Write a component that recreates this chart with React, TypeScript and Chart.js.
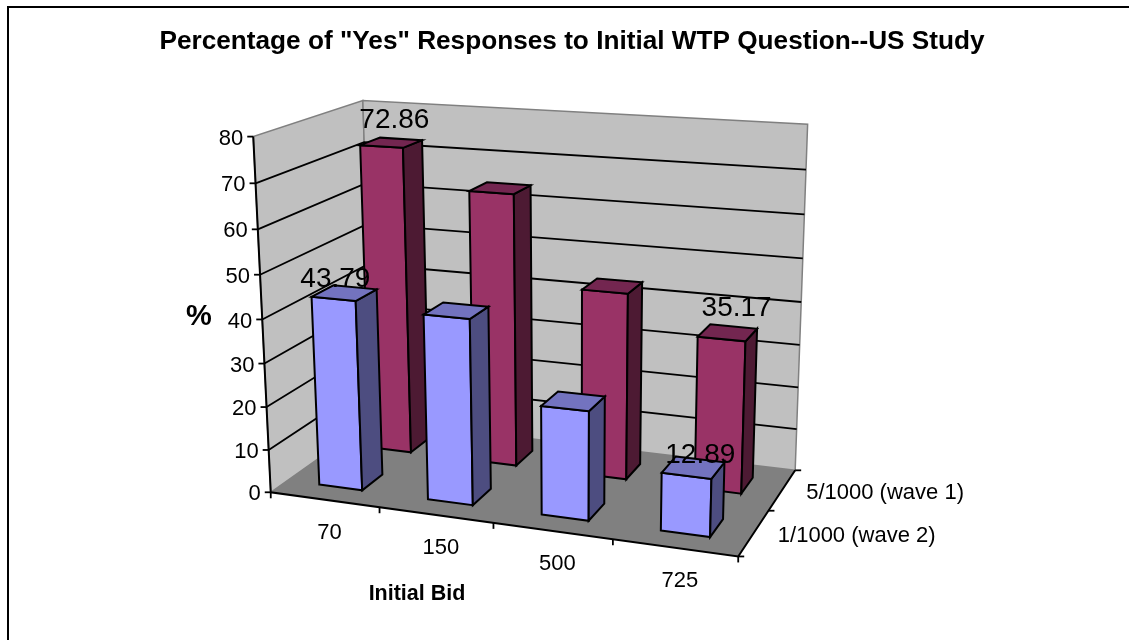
import React, { useEffect, useRef } from "react";
import { Chart, registerables } from "chart.js";

Chart.register(...registerables);

const title = 'Percentage of "Yes" Responses to Initial WTP Question--US Study';
const bids = ["70", "150", "500", "725"];
const seriesNames = ["1/1000 (wave 2)", "5/1000 (wave 1)"];
const wave2 = [43.79, 42.2, 24.6, 12.89];
const wave1 = [72.86, 64, 43.5, 35.17];
const yTicksMax = 80;
const yStep = 10;
const shownLabels = [
  { series: 0, index: 0, dx: -9, dy: -14 },
  { series: 1, index: 0, dx: 3, dy: -22 },
  { series: 1, index: 3, dx: 9, dy: -24 },
  { series: 0, index: 3, dx: 7, dy: -12 },
];

const FONT = '"Liberation Sans", Arial, sans-serif';
const BAR_PCT = 0.4;

// View of the 3D box: where its known corners land on the page (u: along bids, v: depth, w: height).
const anchors: number[][] = [
  [0, 0, 0, 270, 492.7],
  [1, 0, 0, 738, 556.7],
  [1, 1, 0, 795, 470],
  [0, 1, 0, 374, 420],
  [0, 0, 1, 254, 136.7],
  [0, 1, 1, 361.7, 100.7],
  [1, 1, 1, 808, 124.3],
  [0, 0, 0.5, 262.5, 318.7],
];

function solveView() {
  const rows: number[][] = [];
  const rhs: number[] = [];
  for (const [u, v, w, x, y] of anchors) {
    rows.push([u, v, w, 1, 0, 0, 0, 0, -x * u, -x * v, -x * w]);
    rhs.push(x);
    rows.push([0, 0, 0, 0, u, v, w, 1, -y * u, -y * v, -y * w]);
    rhs.push(y);
  }
  const n = 11;
  const m: number[][] = [];
  for (let i = 0; i < n; i++) {
    const r = new Array(n + 1).fill(0);
    for (let j = 0; j < n; j++) for (let k = 0; k < rows.length; k++) r[j] += rows[k][i] * rows[k][j];
    for (let k = 0; k < rows.length; k++) r[n] += rows[k][i] * rhs[k];
    m.push(r);
  }
  for (let i = 0; i < n; i++) {
    let p = i;
    for (let r = i + 1; r < n; r++) if (Math.abs(m[r][i]) > Math.abs(m[p][i])) p = r;
    [m[i], m[p]] = [m[p], m[i]];
    for (let r = 0; r < n; r++) {
      if (r === i) continue;
      const f = m[r][i] / m[i][i];
      for (let c = i; c <= n; c++) m[r][c] -= f * m[i][c];
    }
  }
  return m.map((r, i) => r[n] / r[i]);
}

const h = solveView();
function project(u: number, v: number, w: number): [number, number] {
  const d = h[8] * u + h[9] * v + h[10] * w + 1;
  return [
    (h[0] * u + h[1] * v + h[2] * w + h[3]) / d,
    (h[4] * u + h[5] * v + h[6] * w + h[7]) / d,
  ];
}

function poly(ctx: CanvasRenderingContext2D, pts: [number, number][], fill: string | null, stroke: string | null, lw = 2) {
  ctx.beginPath();
  pts.forEach((p, i) => (i ? ctx.lineTo(p[0], p[1]) : ctx.moveTo(p[0], p[1])));
  if (fill) {
    ctx.closePath();
    ctx.fillStyle = fill;
    ctx.fill();
  }
  if (stroke) {
    ctx.strokeStyle = stroke;
    ctx.lineWidth = lw;
    ctx.lineJoin = "miter";
    ctx.stroke();
  }
}

const faces = [
  { front: "#9999FF", side: "#4D4D80", top: "#7373BF" },
  { front: "#993366", side: "#4D1A33", top: "#732650" },
];

function barGeometry(chart: any, d: number, i: number) {
  const el = chart.getDatasetMeta(d).data[i];
  const a = chart.chartArea;
  const yScale = chart.scales.y;
  const uc = (el.x - a.left) / a.width;
  const uw = el.width / a.width;
  const w = (yScale.getPixelForValue(0) - el.y) / (yScale.getPixelForValue(0) - yScale.getPixelForValue(yTicksMax));
  const vc = (d + 0.5) / chart.data.datasets.length;
  const vw = BAR_PCT / chart.data.datasets.length;
  return { u0: uc - uw / 2, u1: uc + uw / 2, v0: vc - vw / 2, v1: vc + vw / 2, w };
}

const box3d = {
  id: "box3d",
  beforeDraw(chart: any) {
    const ctx = chart.ctx;
    ctx.save();
    ctx.fillStyle = "#FFFFFF";
    ctx.fillRect(0, 0, chart.width, chart.height);
    ctx.strokeStyle = "#000000";
    ctx.lineWidth = 2;
    ctx.beginPath();
    ctx.moveTo(8, chart.height);
    ctx.lineTo(8, 7);
    ctx.lineTo(chart.width, 7);
    ctx.stroke();
    ctx.restore();
  },
  beforeDatasetsDraw(chart: any) {
    const ctx = chart.ctx;
    const yScale = chart.scales.y;
    const wOf = (val: number) =>
      (yScale.getPixelForValue(0) - yScale.getPixelForValue(val)) / (yScale.getPixelForValue(0) - yScale.getPixelForValue(yTicksMax));
    ctx.save();
    // walls and floor
    poly(ctx, [project(0, 0, 0), project(0, 1, 0), project(0, 1, 1), project(0, 0, 1)], "#C0C0C0", "#808080", 1.5);
    poly(ctx, [project(0, 1, 0), project(1, 1, 0), project(1, 1, 1), project(0, 1, 1)], "#C0C0C0", "#808080", 1.5);
    poly(ctx, [project(0, 0, 0), project(1, 0, 0), project(1, 1, 0), project(0, 1, 0)], "#808080", null);
    // gridlines
    for (const t of yScale.ticks) {
      if (t.value === 0 || t.value === yTicksMax) continue;
      const w = wOf(t.value);
      poly(ctx, [project(0, 0, w), project(0, 1, w), project(1, 1, w)], null, "#000000", 1.8);
    }
    // axes
    poly(ctx, [project(0, 0, 1), project(0, 0, 0), project(1, 0, 0), project(1, 1, 0)], null, "#000000", 2);
    for (const t of yScale.ticks) {
      const p = project(0, 0, wOf(t.value));
      poly(ctx, [[p[0] - 6, p[1]], p], null, "#000000", 1.8);
    }
    const nCat = chart.data.labels.length;
    for (let i = 0; i <= nCat; i++) {
      const p = project(i / nCat, 0, 0);
      poly(ctx, [p, [p[0], p[1] + 6]], null, "#000000", 1.8);
    }
    const nSer = chart.data.datasets.length;
    for (let i = 0; i <= nSer; i++) {
      const p = project(1, i / nSer, 0);
      poly(ctx, [p, [p[0] + 6, p[1]]], null, "#000000", 1.8);
    }
    // bars, back row first
    for (let d = nSer - 1; d >= 0; d--) {
      for (let i = 0; i < nCat; i++) {
        const g = barGeometry(chart, d, i);
        const c = faces[d];
        poly(ctx, [project(g.u0, g.v0, 0), project(g.u1, g.v0, 0), project(g.u1, g.v0, g.w), project(g.u0, g.v0, g.w)], c.front, "#000000");
        poly(ctx, [project(g.u1, g.v0, 0), project(g.u1, g.v1, 0), project(g.u1, g.v1, g.w), project(g.u1, g.v0, g.w)], c.side, "#000000");
        poly(ctx, [project(g.u0, g.v0, g.w), project(g.u1, g.v0, g.w), project(g.u1, g.v1, g.w), project(g.u0, g.v1, g.w)], c.top, "#000000");
      }
    }
    ctx.restore();
    return false;
  },
  afterDraw(chart: any) {
    const ctx = chart.ctx;
    const yScale = chart.scales.y;
    ctx.save();
    ctx.fillStyle = "#000000";
    ctx.textBaseline = "middle";
    const wOf = (val: number) =>
      (yScale.getPixelForValue(0) - yScale.getPixelForValue(val)) / (yScale.getPixelForValue(0) - yScale.getPixelForValue(yTicksMax));
    // value axis labels
    ctx.font = `22px ${FONT}`;
    ctx.textAlign = "right";
    for (const t of yScale.ticks) {
      const p = project(0, 0, wOf(t.value));
      ctx.fillText(String(t.value), p[0] - 10, p[1] + 2);
    }
    // bid labels
    ctx.textAlign = "center";
    chart.data.labels.forEach((lab: string, i: number) => {
      const p = project((i + 0.5) / bids.length, 0, 0);
      ctx.fillText(lab, p[0] + 5, p[1] + 33);
    });
    // series labels on the depth axis
    ctx.textAlign = "left";
    chart.data.datasets.forEach((ds: any, d: number) => {
      const p = project(1, (d + 0.5) / chart.data.datasets.length, 0);
      ctx.fillText(ds.label, p[0] + 24, p[1] + 3);
    });
    // axis titles
    ctx.textAlign = "center";
    ctx.font = `bold 21.5px ${FONT}`;
    ctx.fillText("Initial Bid", 417, 594);
    ctx.font = `bold 29px ${FONT}`;
    ctx.fillText("%", 199, 317);
    // data labels
    ctx.font = `28px ${FONT}`;
    for (const l of shownLabels) {
      const g = barGeometry(chart, l.series, l.index);
      const p = project((g.u0 + g.u1) / 2, (g.v0 + g.v1) / 2, g.w);
      const val = chart.data.datasets[l.series].data[l.index];
      ctx.fillText(val.toFixed(2), p[0] + l.dx, p[1] + l.dy);
    }
    ctx.restore();
  },
};

export default function App() {
  const ref = useRef<HTMLCanvasElement>(null);
  useEffect(() => {
    const chart = new Chart(ref.current!, {
      type: "bar",
      plugins: [box3d],
      data: {
        labels: bids,
        datasets: [
          { label: seriesNames[0], data: wave2, backgroundColor: "#9999FF" },
          { label: seriesNames[1], data: wave1, backgroundColor: "#993366" },
        ],
      },
      options: {
        animation: false,
        responsive: false,
        layout: { padding: { left: 15 } },
        datasets: { bar: { grouped: false, barPercentage: BAR_PCT, categoryPercentage: 1 } },
        scales: {
          x: { display: false },
          y: { display: false, min: 0, max: yTicksMax, ticks: { stepSize: yStep } },
        },
        plugins: {
          legend: { display: false },
          tooltip: { enabled: false },
          title: {
            display: true,
            text: title,
            color: "#000000",
            font: { family: FONT, size: 26.2, weight: "bold" },
            padding: { top: 26, bottom: 10 },
          },
        },
      } as any,
    });
    return () => chart.destroy();
  }, []);
  return <canvas ref={ref} width={1129} height={640} style={{ position: "fixed", left: 0, top: 0, display: "block" }} />;
}
